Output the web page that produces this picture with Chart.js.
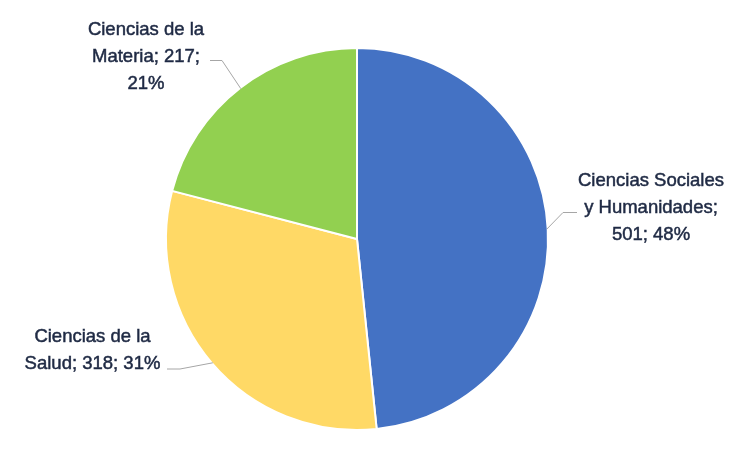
<!DOCTYPE html>
<html>
<head>
<meta charset="utf-8">
<script src="https://cdn.jsdelivr.net/npm/chart.js@4"></script>
<style>
html,body{margin:0;padding:0;background:#fff;}
canvas{display:block;}
</style>
</head>
<body>
<canvas id="c" width="754" height="458"></canvas>
<script>
// ---- data ----
const categories = ['Ciencias Sociales y Humanidades', 'Ciencias de la Salud', 'Ciencias de la Materia'];
const values = [501, 318, 217];
const colors = ['#4472C4', '#FFD966', '#92D050'];
// label text lines (category part), value & percent appended from data
const labelLines = [
  ['Ciencias Sociales', 'y Humanidades;'],
  ['Ciencias de la', 'Salud;'],
  ['Ciencias de la', 'Materia;']
];

// ---- layout of labels (positions only) ----
const labelLayout = [
  { cx: 651, baselines: [186, 213, 240], leader: [[563, 212.5], [577, 212.5]] },
  { cx: 92.5, baselines: [341.5, 368.5], leader: [[180, 369], [167, 369]] },
  { cx: 146, baselines: [35, 62, 89], leader: [[222, 60.5], [210, 60.5]] }
];

const total = values.reduce((a, b) => a + b, 0);

function buildText(i) {
  const pct = Math.round(values[i] / total * 100) + '%';
  const lines = labelLines[i].slice();
  if (i === 0) {
    lines.push(values[i] + '; ' + pct);
  } else if (i === 1) {
    lines[1] = lines[1] + ' ' + values[i] + '; ' + pct;
  } else {
    lines[1] = lines[1] + ' ' + values[i] + ';';
    lines.push(pct);
  }
  return lines;
}

const labelPlugin = {
  id: 'pieLabels',
  afterDatasetsDraw(chart) {
    const ctx = chart.ctx;
    const meta = chart.getDatasetMeta(0);
    meta.data.forEach((arc, i) => {
      const p = arc.getProps(['x', 'y', 'startAngle', 'endAngle', 'outerRadius'], true);
      const mid = (p.startAngle + p.endAngle) / 2;
      const r = p.outerRadius - 1;
      const ax = p.x + Math.cos(mid) * r;
      const ay = p.y + Math.sin(mid) * r;
      const lay = labelLayout[i];
      ctx.save();
      ctx.strokeStyle = '#A6A6A6';
      ctx.lineWidth = 1;
      ctx.beginPath();
      ctx.moveTo(ax, ay);
      lay.leader.forEach(pt => ctx.lineTo(pt[0], pt[1]));
      ctx.stroke();
      ctx.fillStyle = '#1F2A44';
      ctx.strokeStyle = '#1F2A44';
      ctx.lineWidth = 0.5;
      ctx.font = '18.5px "Liberation Sans", Arial, sans-serif';
      ctx.textAlign = 'center';
      ctx.textBaseline = 'alphabetic';
      const lines = buildText(i);
      lines.forEach((t, k) => {
        ctx.fillText(t, lay.cx, lay.baselines[k]);
        ctx.strokeText(t, lay.cx, lay.baselines[k]);
      });
      ctx.restore();
    });
  }
};

new Chart(document.getElementById('c'), {
  type: 'pie',
  data: {
    labels: categories,
    datasets: [{
      data: values,
      backgroundColor: colors,
      borderColor: '#FFFFFF',
      borderWidth: 2,
      radius: 191,
      hoverOffset: 0
    }]
  },
  options: {
    responsive: false,
    animation: false,
    events: [],
    layout: { padding: { top: 49, bottom: 29, left: 167, right: 207 } },
    plugins: {
      legend: { display: false },
      tooltip: { enabled: false }
    }
  },
  plugins: [labelPlugin]
});
</script>
</body>
</html>
